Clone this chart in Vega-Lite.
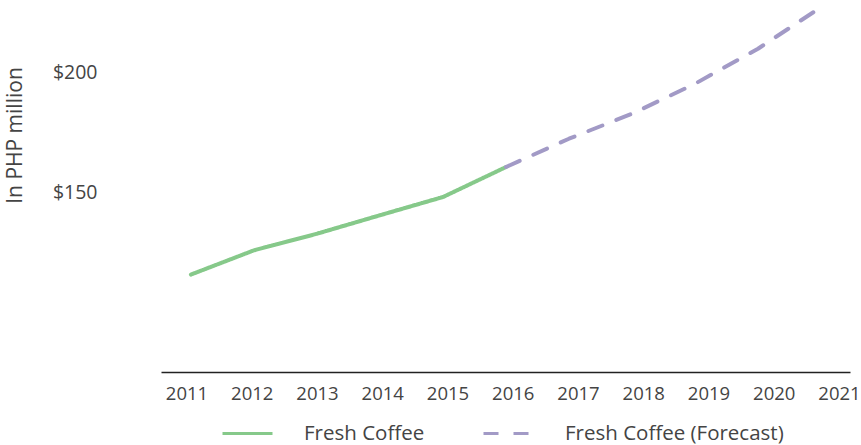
{
  "$schema": "https://vega.github.io/schema/vega-lite/v6.json",
  "width": 689,
  "height": 372,
  "autosize": {"type": "none"},
  "padding": {"left": 161, "top": 0, "right": 11, "bottom": 73},
  "background": "white",
  "data": {
    "values": [
      {"year": 2011, "value": 115.6, "series": "Fresh Coffee"},
      {"year": 2012, "value": 125.7, "series": "Fresh Coffee"},
      {"year": 2013, "value": 132.6, "series": "Fresh Coffee"},
      {"year": 2014, "value": 140.3, "series": "Fresh Coffee"},
      {"year": 2015, "value": 147.9, "series": "Fresh Coffee"},
      {"year": 2016, "value": 160.4, "series": "Fresh Coffee"},
      {"year": 2016, "value": 160.4, "series": "Fresh Coffee (Forecast)"},
      {"year": 2017, "value": 172.2, "series": "Fresh Coffee (Forecast)"},
      {"year": 2018, "value": 182.6, "series": "Fresh Coffee (Forecast)"},
      {"year": 2019, "value": 195.1, "series": "Fresh Coffee (Forecast)"},
      {"year": 2020, "value": 209.7, "series": "Fresh Coffee (Forecast)"},
      {"year": 2021, "value": 227.0, "series": "Fresh Coffee (Forecast)"}
    ]
  },
  "layer": [
    {
      "mark": {"type": "line", "strokeWidth": 4, "strokeCap": "round", "strokeJoin": "round"},
      "encoding": {
        "x": {
          "field": "year", "type": "quantitative",
          "scale": {"domain": [2010.525, 2021.46], "nice": false, "zero": false},
          "axis": null
        },
        "y": {
          "field": "value", "type": "quantitative",
          "scale": {"domain": [75, 230], "nice": false, "zero": false},
          "axis": {
            "title": "In PHP million", "values": [150, 200], "labelExpr": "'$' + datum.value",
            "domain": false, "ticks": false, "grid": false, "labelPadding": 64, "labelFontSize": 19.5,
            "titleX": -146, "titleY": 135, "titleAlign": "center", "titleBaseline": "middle", "titleAngle": -90,
            "titleFontSize": 21
          }
        },
        "color": {
          "field": "series", "type": "nominal",
          "scale": {"domain": ["Fresh Coffee", "Fresh Coffee (Forecast)"], "range": ["#86c98a", "#a29ac6"]},
          "legend": {
            "title": null, "orient": "none", "direction": "horizontal", "legendX": 60, "legendY": 407,
            "symbolType": "stroke", "symbolSize": 2500, "symbolStrokeWidth": 3, "labelOffset": 30,
            "columnPadding": 52, "padding": 0
          }
        },
        "strokeDash": {
          "field": "series", "type": "nominal",
          "scale": {"domain": ["Fresh Coffee", "Fresh Coffee (Forecast)"], "range": [[1, 0], [15, 15]]},
          "legend": {
            "title": null, "orient": "none", "direction": "horizontal", "legendX": 60, "legendY": 407,
            "symbolType": "stroke", "symbolSize": 2500, "symbolStrokeWidth": 3, "labelOffset": 30,
            "columnPadding": 52, "padding": 0
          }
        }
      }
    },
    {
      "mark": {"type": "point", "opacity": 0},
      "encoding": {
        "x": {
          "field": "year", "type": "quantitative",
          "scale": {"domain": [2010.609, 2021.169], "nice": false, "zero": false},
          "axis": {
            "orient": "bottom", "title": null, "values": [2011, 2012, 2013, 2014, 2015, 2016, 2017, 2018, 2019, 2020, 2021],
            "format": "d", "labelAngle": 0, "ticks": false, "grid": false, "labelFlush": false, "labelOverlap": false,
            "domainColor": "#222", "domainWidth": 1.5, "labelPadding": 12
          }
        },
        "y": {"field": "value", "type": "quantitative"}
      }
    }
  ],
  "resolve": {"scale": {"x": "independent"}, "axis": {"x": "independent"}},
  "config": {
    "view": {"stroke": null},
    "font": "Open Sans",
    "axis": {"labelFont": "Open Sans", "labelFontSize": 18.5, "labelColor": "#444", "titleFont": "Open Sans", "titleFontSize": 21, "titleFontWeight": "normal", "titleColor": "#444", "grid": false},
    "legend": {"labelFont": "Open Sans", "labelFontSize": 20.5, "labelColor": "#444", "labelLimit": 400}
  }
}
